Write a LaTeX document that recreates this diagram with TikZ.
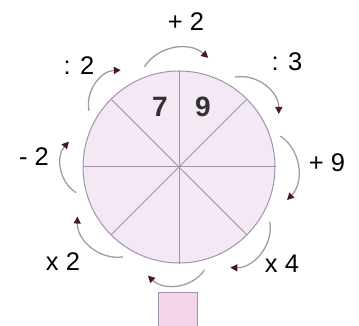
\documentclass[tikz,border=0pt]{standalone}
\usepackage{fontspec}
\setmainfont{Liberation Sans}
\usetikzlibrary{arrows.meta,calc}
\definecolor{rim}{RGB}{160,148,172}
\definecolor{wheelfill}{RGB}{243,232,243}
\definecolor{boxfill}{RGB}{244,212,232}
\definecolor{flowgray}{RGB}{158,158,158}
\definecolor{tipred}{RGB}{72,26,26}
\definecolor{ink}{RGB}{50,50,50}
\tikzset{
  wheel/.style={circle,draw=rim,fill=wheelfill,line width=1pt,minimum size=192pt,inner sep=0pt},
  spoke/.style={draw=rim,line width=1pt},
  flow/.style={draw=flowgray,line width=1.3pt,-{Triangle[length=7pt,width=7pt,color=tipred]}},
  lbl/.style={font=\fontsize{25.5}{30}\selectfont,inner sep=0pt},
  digit/.style={font=\fontsize{28}{32}\selectfont\bfseries,text=ink,inner sep=0pt},
  slot/.style={draw=rim,fill=boxfill,line width=1pt,minimum width=39pt,minimum height=50pt,inner sep=0pt},
}

\begin{document}
\begin{tikzpicture}[x=1pt,y=1pt]
  \clip (0,0) rectangle (359,-326);
  \node[wheel] (c) at (179,-167) {};
  \foreach \a/\b in {0/180,45/225,90/270,135/315}
    \draw[spoke] (c.\a) -- (c.\b);
  \node[digit] (seven) at (160,-107) {7};
  \node[digit] (nine) at (203,-107) {9};
  \node[slot] (box) at (177.5,-317) {};
  % operations round the wheel
  \foreach \a/\b [count=\i] in {109/75,148/121,58/28,17/-17,-31/-63,-76/-106,-122/-154,-166/-193}{
    \coordinate (s\i) at ($(c)+(\a:106pt)$);
    \coordinate (e\i) at ($(c)+(\b:113pt)$);
    \draw[flow] (s\i) to[bend left=50] (e\i);
  }
  \node[lbl] (plustwo) at (186,-22) {+ 2};
  \node[lbl] (divtwo) at (79,-66) {: 2};
  \node[lbl] (divthree) at (287,-62) {: 3};
  \node[lbl] (plusnine) at (327,-163) {+ 9};
  \node[lbl] (minustwo) at (34,-157) {- 2};
  \node[lbl] (timestwo) at (63,-262) {x 2};
  \node[lbl] (timesfour) at (282,-264) {x 4};
\end{tikzpicture}
\end{document}
